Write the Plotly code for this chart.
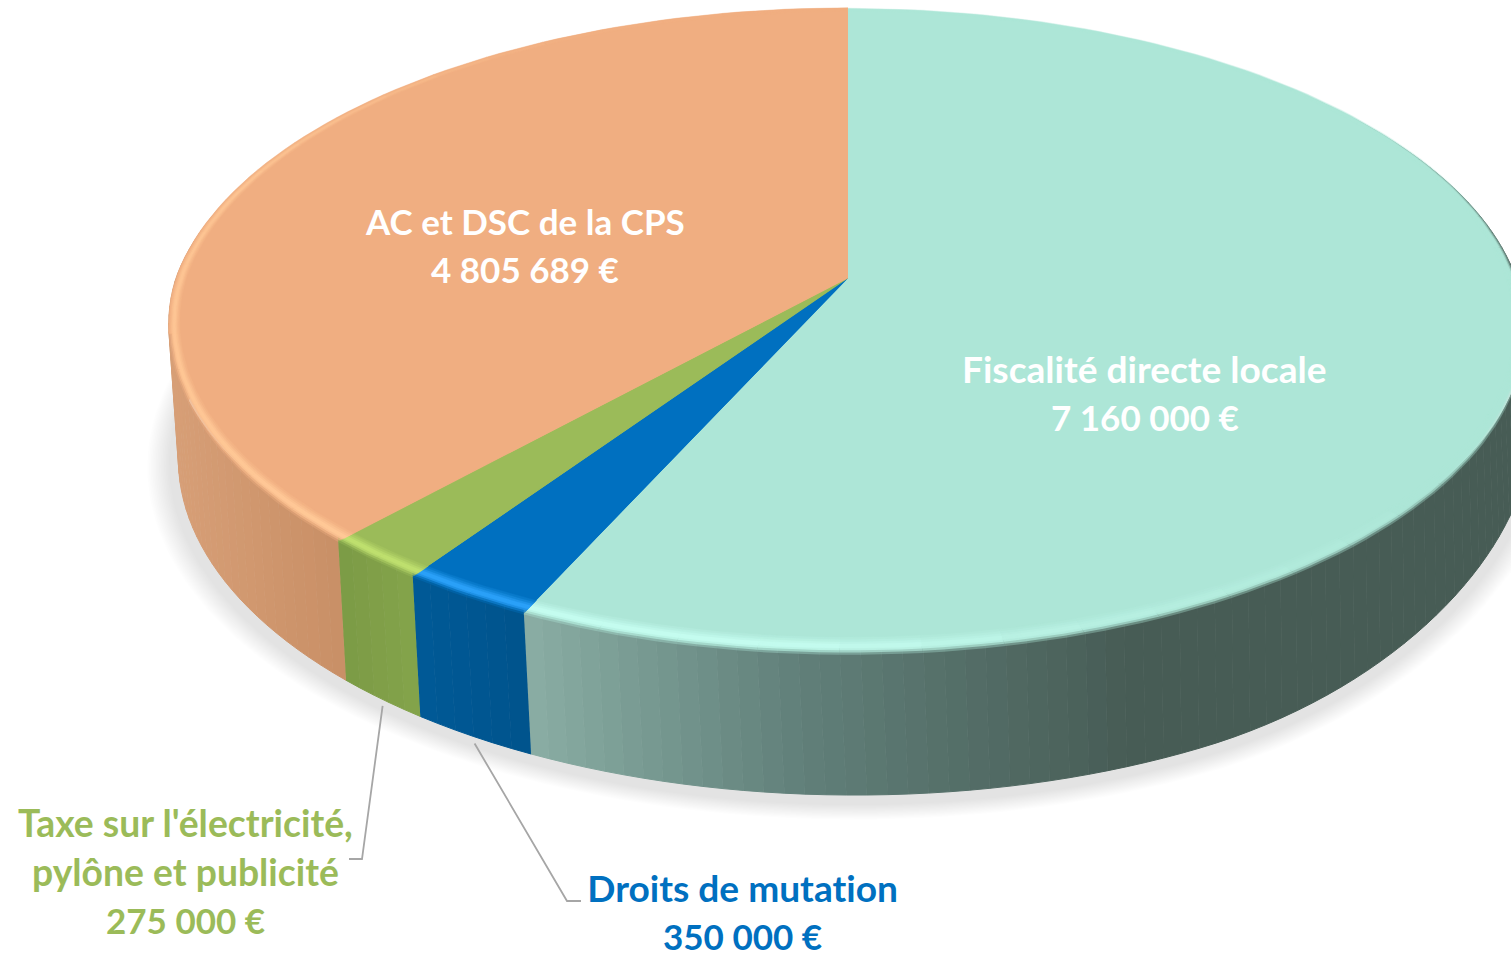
import numpy as np
import plotly.graph_objects as go

categories = ["Fiscalité directe locale", "Droits de mutation",
              "Taxe sur l'électricité, pylône et publicité", "AC et DSC de la CPS"]
values = [7160000, 350000, 275000, 4805689]
flat_colors = ["#ADE6D7", "#0070C0", "#9BBB59", "#F0AE81"]
ridge_colors = ["#C4FCEF", "#2AA0F8", "#BEDF6E", "#FFC896"]
side_stops_x = [[525, 800, 1130, 1600], [410, 530], [340, 420], [165, 345]]
side_stops_c = [["#8BAFA5", "#61807A", "#475C55", "#475C55"],
                ["#005A98", "#00548C"], ["#7B9A45", "#84A44A"], ["#D8A078", "#C98F66"]]
label_lines = [["Fiscalité directe locale"], ["Droits de mutation"],
               ["Taxe sur l'électricité,", "pylône et publicité"], ["AC et DSC de la CPS"]]
label_center = [(1144.5, 368.5), (742, 887.5), (185, 822.5), (525, 220.5)]
label_colors = ["#FFFFFF", "#0070C0", "#9BBB59", "#FFFFFF"]
name_sizes = [37.1, 37.1, 37.3, 35.0]
VALUE_SIZE = 35.0
LINE_STEP = 48.7
FONT = "Lato"

# projection of the tilted disc on the page
P = 0.165
def top(u, a):
    # u = 0 on the outer rim, u = 1 where the bevel meets the flat face
    a = np.asarray(a, float)
    q = 0.4 + 0.6 * np.clip(-np.cos(a), 0, 1) ** 2
    r = 1 - 0.04 * u * q
    X, Y = r * np.sin(a), -r * np.cos(a)
    d = 1 - P * Y
    sx = np.where(X < 0, 672 - 13 * np.clip(Y, 0, 1), 668)
    return 848 + sx * X / d, 278 + 314.7 * Y / d
def bottom(r, a, dy=0):
    X, Y = r * np.sin(a), -r * np.cos(a)
    d = 1 - 0.15 * Y
    x = 855 + 669 * X / d
    y = 408 + dy + 329 * Y / d
    return x, y - (np.clip((x - 1200) / 310, 0, 1) ** 2) * 27

def h2r(c):
    return np.array([int(c[i:i + 2], 16) for i in (1, 3, 5)], float)
def mix(a, b, t):
    v = h2r(a) * (1 - t) + h2r(b) * t
    return "#%02X%02X%02X" % tuple(int(round(x)) for x in v)
def rgba(c, al):
    v = h2r(c).astype(int)
    return f"rgba({v[0]},{v[1]},{v[2]},{al})"
def interp_color(x, xs, cs):
    rgb = [np.interp(x, xs, [h2r(c)[k] for c in cs]) for k in range(3)]
    return "#%02X%02X%02X" % tuple(int(round(q)) for q in rgb)

total = sum(values)
edges = np.concatenate([[0], np.cumsum(values) / total * 2 * np.pi])

fig = go.Figure()
def poly(xs, ys, color, line=0.0):
    fig.add_trace(go.Scatter(x=list(xs), y=list(ys), mode="lines", fill="toself", fillcolor=color,
                             line=dict(color=color, width=line), hoverinfo="skip", showlegend=False))

# soft shadow under the disc
full = np.linspace(0, 2 * np.pi, 241)
for k in range(14):
    r = 1.045 - k * 0.0024
    sx, sy = bottom(r, full, dy=4)
    poly(sx, sy, "rgba(0,0,0,0.0095)")

# side wall
for i in range(4):
    a0, a1 = edges[i], edges[i + 1]
    n = max(2, int(np.degrees(a1 - a0) / 1.5))
    br = np.linspace(a0, a1, n + 1)
    for u, v in zip(br[:-1], br[1:]):
        aa = np.linspace(u, v, 3)
        bx, by = bottom(1.0, aa)
        tx = top(0.0, aa)[0]
        ty = top(1.0, aa)[1]
        c = interp_color(bx.mean(), side_stops_x[i], side_stops_c[i])
        poly(np.r_[bx, tx[::-1]], np.r_[by, ty[::-1]], c, 1.0)

# bevel rings on the top face
rings = [(0.0, 0.1, 0.35), (0.125, 0.4, 0.65), (0.25, 0.75, 0.9), (0.375, 1.0, 1.0),
         (0.5, 1.0, 1.0), (0.625, 0.75, 1.0), (0.75, 0.45, 1.0), (0.875, 0.2, 1.0)]
def strength(a):
    return float(np.interp(np.degrees(a), [0, 130, 165, 185, 225, 290, 330, 360],
                           [0, 0, 0.5, 1, 1, 0.8, 0.1, 0]))
for u0, w, al in rings:
    for i in range(4):
        a0, a1 = edges[i], edges[i + 1]
        n = max(2, int(np.degrees(a1 - a0) / 6))
        br = np.linspace(a0, a1, n + 1)
        for u, v in zip(br[:-1], br[1:]):
            aa = np.linspace(u, v, 5)
            px, py = top(u0, aa)
            c = mix(flat_colors[i], ridge_colors[i], strength((u + v) / 2) * w)
            a_use = 1.0 if np.degrees((u + v) / 2) > 262 else al
            poly(np.r_[848, px], np.r_[278, py], rgba(c, a_use), 0.5 if a_use == 1.0 else 0)

# flat top slices
for i in range(4):
    aa = np.linspace(edges[i], edges[i + 1], 181)
    px, py = top(1.0, aa)
    poly(np.r_[848, px], np.r_[278, py], flat_colors[i], 0.5)

# leader lines for the two outside labels
def leader(i, ex, ey, tail):
    m = (edges[i] + edges[i + 1]) / 2
    sx, sy = bottom(1.0, m)
    fig.add_trace(go.Scatter(x=[sx + 1, ex, tail], y=[sy + 7, ey, ey], mode="lines",
                             line=dict(color="#A6A6A6", width=1.8), hoverinfo="skip", showlegend=False))
leader(2, 362, 859, 349)
leader(1, 567, 901, 581)

# labels
annos = []
for i in range(4):
    lines = label_lines[i] + [f"{values[i]:,}".replace(",", " ") + " €"]
    sizes = [name_sizes[i]] * len(label_lines[i]) + [VALUE_SIZE]
    cx, cy = label_center[i]
    for j, t in enumerate(lines):
        annos.append(dict(x=cx, y=cy + j * LINE_STEP, text=f"<b>{t}</b>", showarrow=False,
                          xanchor="center", yanchor="middle", xref="x", yref="y",
                          font=dict(family=FONT, size=sizes[j], color=label_colors[i])))

fig.update_layout(width=1511, height=953, margin=dict(l=0, r=0, t=0, b=0),
                  paper_bgcolor="white", plot_bgcolor="white", showlegend=False, annotations=annos,
                  xaxis=dict(range=[0, 1511], visible=False, fixedrange=True),
                  yaxis=dict(range=[953, 0], visible=False, fixedrange=True))
css = ("document.body.style.margin='0';document.body.style.overflow='hidden';"
       "var s=document.createElement('style');"
       "s.textContent='text{font-variant-ligatures:none;font-feature-settings:\"liga\" 0,\"clig\" 0,\"calt\" 0}';"
       "document.head.appendChild(s);")
fig.write_html("out.html", config=dict(displayModeBar=False), post_script=css)
